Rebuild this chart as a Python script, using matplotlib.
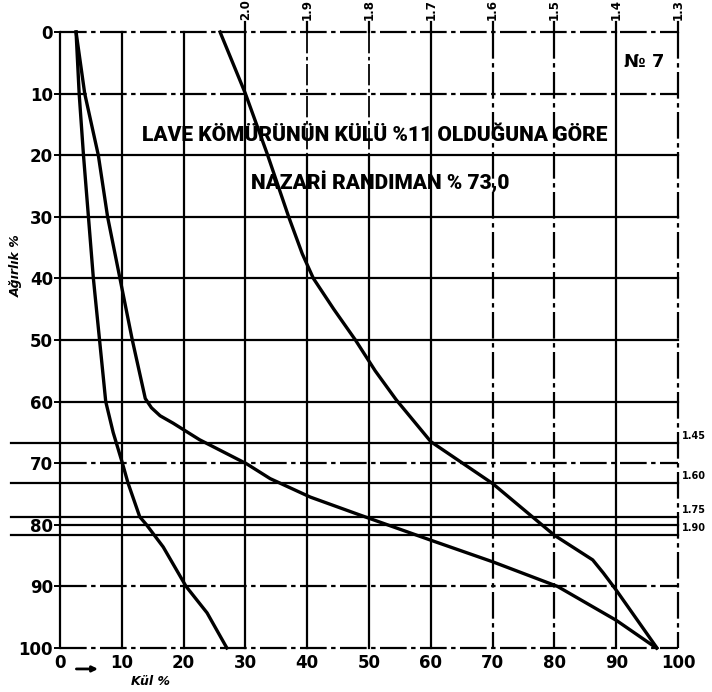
import matplotlib
matplotlib.use("Agg")
import matplotlib.pyplot as plt

# washability curves (x: ash %, y: weight %)
curve_a_x = [2.6, 3.1, 3.8, 4.6, 5.4, 6.4, 7.4, 8.6, 10.1, 11.0, 12.9, 14.0, 16.7, 20.4, 23.8, 27.0]
curve_a_y = [0, 10, 20, 30, 40, 50, 60, 65, 70, 73.2, 78.7, 80, 83.6, 90, 94.3, 100]

curve_b_x = [2.6, 4.0, 6.2, 7.7, 9.7, 11.7, 13.8, 14.8, 16.2, 18.3, 22.6, 30.2, 34.0, 40.5, 48.5, 60, 70, 80.5, 90, 96.5]
curve_b_y = [0, 10, 20, 30, 40, 50, 59.5, 61.0, 62.3, 63.5, 66.2, 70.1, 72.5, 75.5, 78.4, 82.5, 86, 90, 95.5, 100]

curve_c_x = [25.9, 30, 33.5, 37.0, 39.2, 41.0, 44.3, 47.8, 51.0, 54.4, 60, 70, 80, 86.2, 87.9, 90, 96.6]
curve_c_y = [0, 10, 19.7, 30, 36, 40, 45, 50, 55, 59.7, 66.5, 73.3, 81.7, 85.7, 87.8, 90.6, 100]

# density cut lines
cut_y = [66.7, 73.2, 78.7, 81.7]
cut_labels = ["1.45", "1.60", "1.75", "1.90"]

# density scale along the top
density_x = [30, 40, 50, 60, 70, 80, 90, 100]
density_labels = ["2.0", "1.9", "1.8", "1.7", "1.6", "1.5", "1.4", "1.3"]

ticks = list(range(0, 101, 10))

fig = plt.figure(figsize=(7.12, 6.92), dpi=100)
ax = fig.add_axes([60 / 712, 44 / 692, 618 / 712, 616 / 692])
ax.set_xlim(0, 100)
ax.set_ylim(100, 0)
for s in ax.spines.values():
    s.set_visible(False)

broken = (0, (12, 2, 2, 2))
glw = 1.6

# horizontal grid
for y in ticks:
    ls = broken if y in (0, 10, 70, 90, 100) else "-"
    ax.plot([0, 100], [y, y], color="black", lw=glw, ls=ls, clip_on=False)

# vertical grid
for x in ticks:
    if x in (40, 50):
        ax.plot([x, x], [0, 20], color="black", lw=glw * 0.8, ls=broken, clip_on=False)
        ax.plot([x, x], [20, 100], color="black", lw=glw, clip_on=False)
    else:
        ls = broken if x in (70, 80, 100) else "-"
        ax.plot([x, x], [0, 100], color="black", lw=glw, ls=ls, clip_on=False)

for x, lab in zip(density_x, density_labels):
    ax.plot([x, x], [-1.6, 0], color="black", lw=glw, clip_on=False)
    ax.text(x, -2.0, lab, rotation=90, ha="center", va="bottom",
            fontsize=8.5, fontweight="bold")

for y, lab in zip(cut_y, cut_labels):
    ax.plot([-8, 100], [y, y], color="black", lw=glw, clip_on=False)
    ax.text(100.6, y - 0.3, lab, ha="left", va="bottom", fontsize=7, fontweight="bold")

# curves
for cx, cy in [(curve_a_x, curve_a_y), (curve_b_x, curve_b_y), (curve_c_x, curve_c_y)]:
    ax.plot(cx, cy, color="black", lw=2.4, solid_joinstyle="round", clip_on=False)

ax.set_xticks(ticks)
ax.set_yticks(ticks)
ax.tick_params(axis="x", length=0, pad=4, labelsize=12)
ax.tick_params(axis="y", length=4, width=1.4, pad=1, labelsize=12)
for lab in ax.get_xticklabels() + ax.get_yticklabels():
    lab.set_fontweight("bold")

ax.annotate("", xy=(6.6, 103.4), xytext=(2.2, 103.4), annotation_clip=False,
            arrowprops=dict(arrowstyle="-|>", lw=2, color="black", mutation_scale=8))
ax.text(14.6, 105.4, "Kül %", ha="center", va="center", fontsize=9,
        fontstyle="italic", fontweight="bold", clip_on=False)
ax.text(-7.0, 38, "Ağırlık %", ha="center", va="center", rotation=90, fontsize=9,
        fontstyle="italic", fontweight="bold", clip_on=False)

title_font = dict(family=["Roboto", "DejaVu Sans"], fontweight="black",
                  fontsize=15, ha="center", va="center")
ax.text(51.0, 16.8, "LAVE KÖMÜRÜNÜN KÜLÜ %11 OLDUĞUNA GÖRE", **title_font)
ax.text(51.8, 24.5, "NAZARİ RANDIMAN % 73,0", **title_font)
ax.text(94.5, 4.9, "№ 7", ha="center", va="center", fontsize=13, fontweight="bold")

fig.savefig("out.png", dpi=100)
